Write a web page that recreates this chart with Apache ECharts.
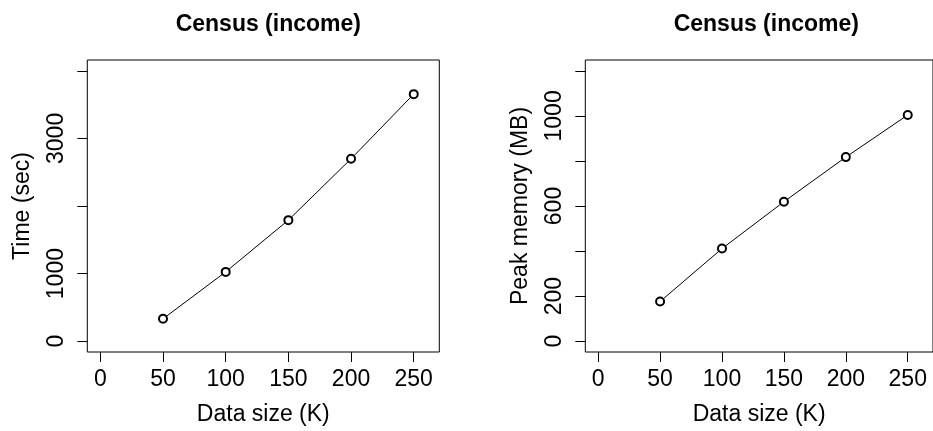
<!DOCTYPE html>
<html><head><meta charset="utf-8">
<script src="https://cdn.jsdelivr.net/npm/echarts@6/dist/echarts.min.js"></script>
<style>html,body{margin:0;padding:0;background:#fff}#c{width:933px;height:431px}</style>
</head><body><div id="c"></div>
<script>
const dataSize = [50, 100, 150, 200, 250];
const timeSec = [331, 1025, 1791, 2698, 3655];
const peakMemMB = [176, 411, 619, 817, 1004];
const xTicks = [0, 50, 100, 150, 200, 250];
const timeTicks = [0, 1000, 2000, 3000, 4000];
const timeLabels = [0, 1000, 3000];
const memTicks = [0, 200, 400, 600, 800, 1000, 1200];
const memLabels = [0, 200, 600, 1000];
const titleText = 'Census (income)';

const FONT = 'Liberation Sans, Arial, Helvetica, sans-serif';
const FS = 23;
const chart = echarts.init(document.getElementById('c'), null, {renderer: 'canvas'});

function xAxis(idx) {
  return {
    type: 'value', gridIndex: idx, min: -10.4, max: 270.4,
    name: 'Data size (K)', nameLocation: 'middle', nameGap: 51,
    nameTextStyle: {fontFamily: FONT, fontSize: FS, color: '#000'},
    axisLine: {show: false, onZero: false},
    axisTick: {show: true, inside: false, length: 10, customValues: xTicks, lineStyle: {color: '#000', width: 1}},
    axisLabel: {show: true, customValues: xTicks, margin: 16, fontFamily: FONT, fontSize: FS, color: '#000',
                formatter: v => String(v)},
    splitLine: {show: false}
  };
}
function yAxis(idx, min, max, ticks, labels, name) {
  return {
    type: 'value', gridIndex: idx, min: min, max: max,
    name: name, nameLocation: 'middle', nameGap: 53,
    nameTextStyle: {fontFamily: FONT, fontSize: FS, color: '#000'},
    axisLine: {show: false, onZero: false},
    axisTick: {show: true, inside: false, length: 10, customValues: ticks, lineStyle: {color: '#000', width: 1}},
    axisLabel: {show: true, customValues: labels, rotate: 90, margin: 19, fontFamily: FONT, fontSize: FS, color: '#000',
                formatter: v => String(v)},
    splitLine: {show: false}
  };
}
function series(idx, data) {
  return {
    type: 'line', xAxisIndex: idx, yAxisIndex: idx,
    data: dataSize.map((x, i) => [x, data[i]]),
    symbol: 'emptyCircle', symbolSize: 8,
    lineStyle: {color: '#000', width: 1},
    itemStyle: {color: '#000', borderWidth: 0.9},
    animation: false, silent: true
  };
}

chart.setOption({
  backgroundColor: '#fff',
  animation: false,
  title: [
    {text: titleText, left: 263.3, top: 8, textAlign: 'center',
     textStyle: {fontFamily: FONT, fontSize: FS, fontWeight: 'bold', color: '#000'}},
    {text: titleText, left: 761.3, top: 8, textAlign: 'center',
     textStyle: {fontFamily: FONT, fontSize: FS, fontWeight: 'bold', color: '#000'}}
  ],
  grid: [
    {left: 87.3, top: 60, width: 352, height: 295.3, show: true, borderColor: '#000', borderWidth: 1, backgroundColor: 'transparent', containLabel: false},
    {left: 585.3, top: 60, width: 352, height: 295.3, show: true, borderColor: '#000', borderWidth: 1, backgroundColor: 'transparent', containLabel: false}
  ],
  xAxis: [xAxis(0), xAxis(1)],
  yAxis: [
    yAxis(0, -160, 4160, timeTicks, timeLabels, 'Time (sec)'),
    yAxis(1, -48, 1248, memTicks, memLabels, 'Peak memory (MB)')
  ],
  series: [series(0, timeSec), series(1, peakMemMB)]
});
</script></body></html>
